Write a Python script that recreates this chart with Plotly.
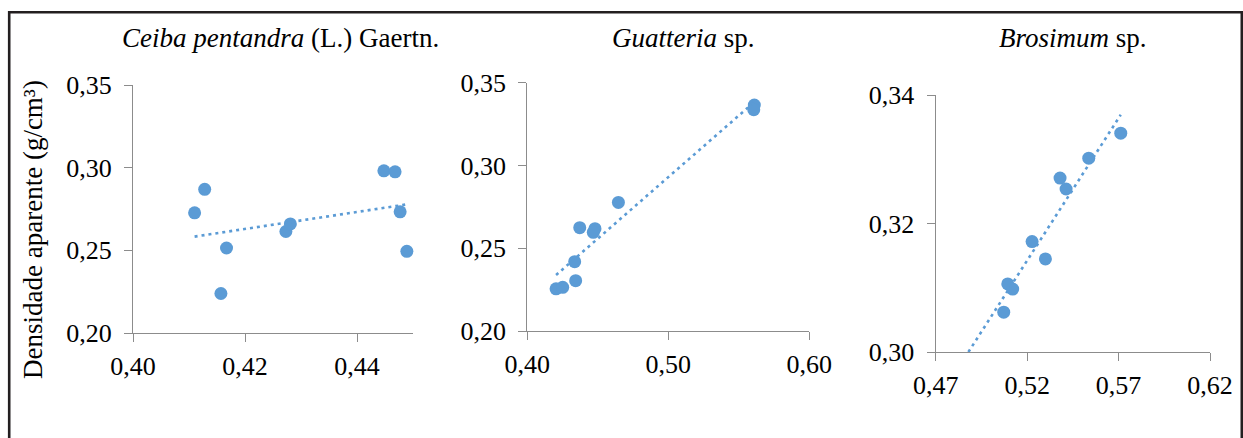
import numpy as np
import plotly.graph_objects as go

# ---- data ----
titles = ["<i>Ceiba pentandra</i> (L.) Gaertn.", "<i>Guatteria</i> sp.", "<i>Brosimum</i> sp."]
y_title = "Densidade aparente (g/cm³)"

ceiba_x = [0.4110, 0.4128, 0.4167, 0.4157, 0.4273, 0.4281, 0.4448, 0.4468, 0.4477, 0.4489]
ceiba_y = [0.2727, 0.2869, 0.2514, 0.2239, 0.2614, 0.2660, 0.2981, 0.2975, 0.2733, 0.2494]

guat_x = [0.4204, 0.4251, 0.4343, 0.4336, 0.4372, 0.4480, 0.4468, 0.4646, 0.5610, 0.5606]
guat_y = [0.2255, 0.2264, 0.2304, 0.2419, 0.2624, 0.2618, 0.2596, 0.2777, 0.3365, 0.3337]

bros_x = [0.5072, 0.5094, 0.5121, 0.5227, 0.5300, 0.5380, 0.5413, 0.5537, 0.5712]
bros_y = [0.3062, 0.3106, 0.3098, 0.3172, 0.3145, 0.3271, 0.3254, 0.3302, 0.3341]

x_ticks = [[0.40, 0.42, 0.44], [0.40, 0.50, 0.60], [0.47, 0.52, 0.57, 0.62]]
y_ticks = [[0.20, 0.25, 0.30, 0.35], [0.20, 0.25, 0.30, 0.35], [0.30, 0.32, 0.34]]
x_ranges = [[0.40, 0.45], [0.40, 0.60], [0.47, 0.62]]
y_ranges = [[0.20, 0.35], [0.20, 0.35], [0.30, 0.34]]
trend_backcast = [0.0, 0.0, 0.04]

series = [(ceiba_x, ceiba_y), (guat_x, guat_y), (bros_x, bros_y)]

# ---- layout geometry (pixels) ----
W, H = 1243, 438
x_px = [(133, 413), (527.3, 809.3), (935.7, 1210)]
y_px = [(85, 333), (82.7, 331), (95.3, 352)]
title_px = [(280, 38), (683, 38), (1073, 38)]

BLUE = "#5B9BD5"
AXIS = "#8C8C8C"
FONT = "Liberation Serif, Times New Roman, serif"
FS = 26
FS_T = 27

fig = go.Figure()
layout = dict(
    template="none",
    width=W, height=H, margin=dict(l=0, r=0, t=0, b=0, pad=0, autoexpand=False),
    paper_bgcolor="white", plot_bgcolor="white",
    showlegend=False, separators=",.",
    font=dict(family=FONT, size=FS, color="black"),
    annotations=[], shapes=[],
)

for i, (xs, ys) in enumerate(series):
    n = "" if i == 0 else str(i + 1)
    xa, ya = "x" + n, "y" + n
    fig.add_trace(go.Scatter(
        x=xs, y=ys, mode="markers", xaxis=xa, yaxis=ya,
        marker=dict(size=13, color=BLUE, line=dict(width=0)),
        cliponaxis=False,
    ))
    slope, icpt = np.polyfit(xs, ys, 1)
    tx = np.array([min(xs) - trend_backcast[i], max(xs)])
    fig.add_trace(go.Scatter(
        x=tx, y=slope * tx + icpt, mode="lines", xaxis=xa, yaxis=ya,
        line=dict(color=BLUE, width=2.6, dash="3px,4px"),
    ))
    x0, x1 = x_px[i]
    yt, yb = y_px[i]
    common = dict(
        showgrid=False, zeroline=False, showline=True, linecolor=AXIS, linewidth=1.3,
        ticks="outside", ticklen=8, tickcolor=AXIS, tickwidth=1.3,
        tickfont=dict(family=FONT, size=FS, color="black"),
        tickformat=".2f", automargin=False,
    )
    layout["xaxis" + n] = dict(
        domain=[x0 / W, x1 / W], anchor=ya, range=x_ranges[i],
        tickvals=x_ticks[i], ticklabelstandoff=2, **common,
    )
    layout["yaxis" + n] = dict(
        domain=[1 - yb / H, 1 - yt / H], anchor=xa, range=y_ranges[i],
        tickvals=y_ticks[i], ticklabelstandoff=7, **common,
    )
    tx_, ty_ = title_px[i]
    layout["annotations"].append(dict(
        text=titles[i], x=tx_ / W, y=1 - ty_ / H, xref="paper", yref="paper",
        showarrow=False, xanchor="center", yanchor="middle",
        font=dict(family=FONT, size=FS_T, color="black"),
    ))

layout["annotations"].append(dict(
    text=y_title, x=33 / W, y=1 - 230 / H, xref="paper", yref="paper",
    showarrow=False, textangle=-90, xanchor="center", yanchor="middle",
    font=dict(family=FONT, size=FS_T, color="black"),
))

layout["shapes"].append(dict(
    type="rect", xref="paper", yref="paper",
    x0=9.2 / W, x1=1241.8 / W, y0=-0.2, y1=1 - 12.3 / H,
    line=dict(color="#231F20", width=2.6), fillcolor="rgba(0,0,0,0)", layer="above",
))

fig.update_layout(**layout)
fig.write_html(
    "out.html",
    config={"displayModeBar": False},
    post_script="document.body.style.margin='0';document.body.style.overflow='hidden';",
)
